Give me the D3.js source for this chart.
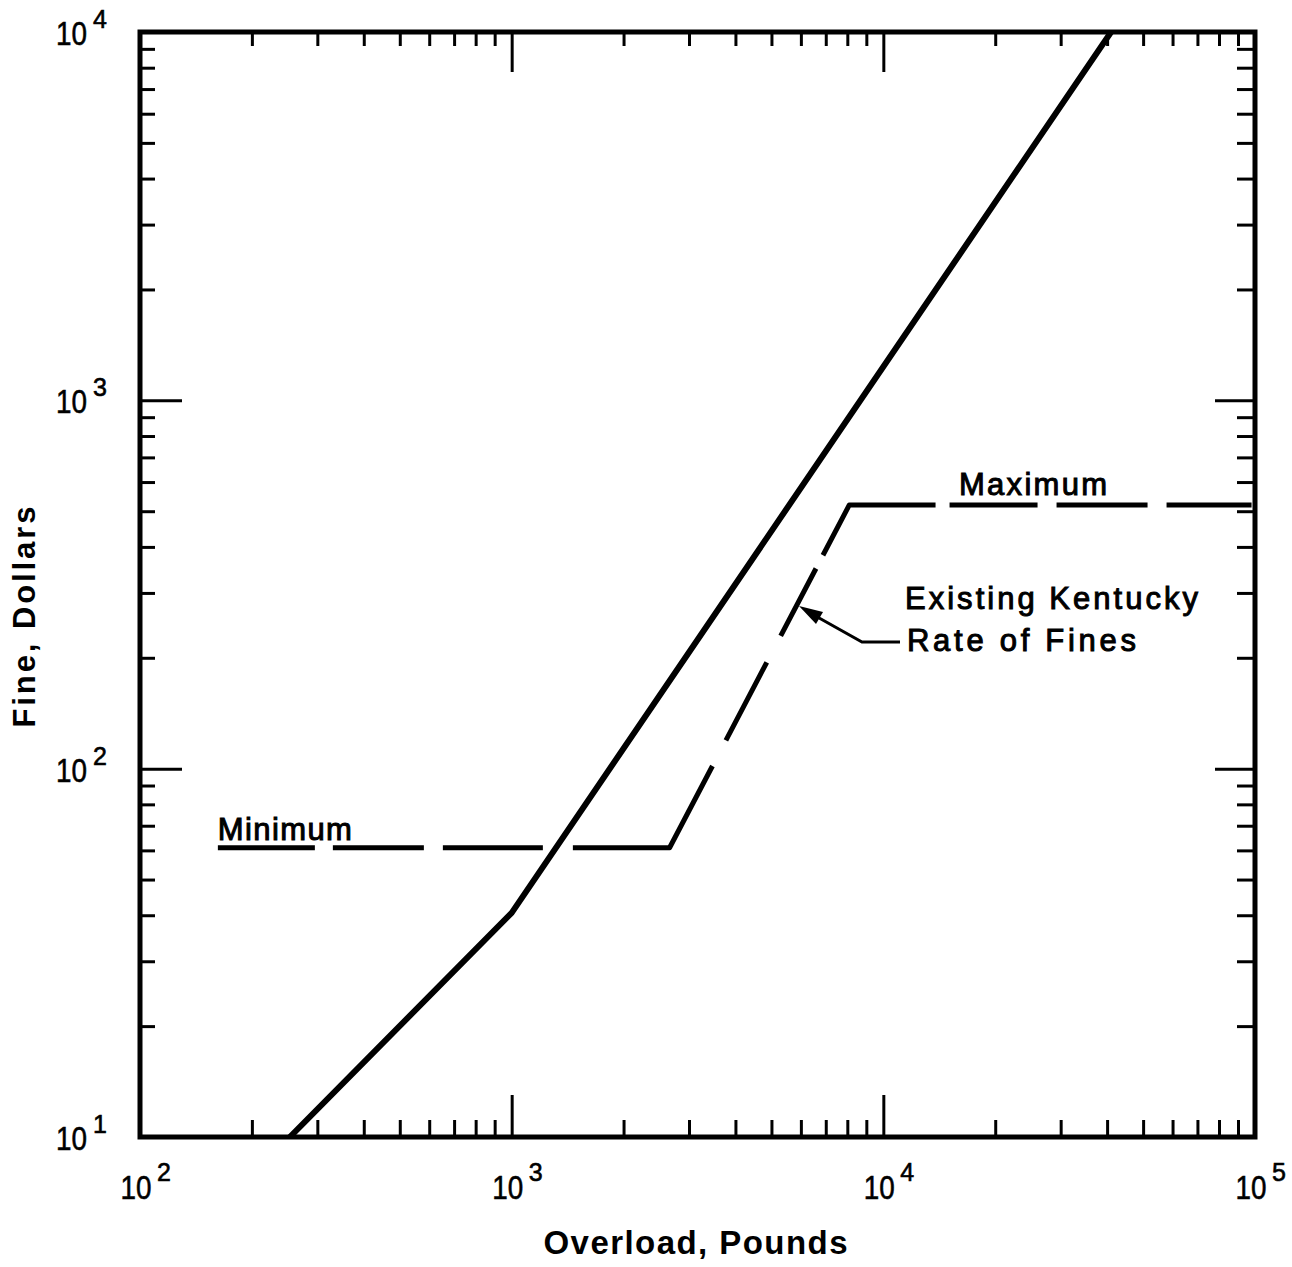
<!DOCTYPE html>
<html>
<head>
<meta charset="utf-8">
<script src="https://cdn.jsdelivr.net/npm/d3@7"></script>
<style>
body{margin:0;background:#fff;}
text{font-family:"Liberation Sans",Arial,sans-serif;fill:#000;}
</style>
</head>
<body>
<div id="chart"></div>
<script>
//values
var overloadSolid = [253, 1000, 41000];
var fineSolid = [10, 40.6, 10000];
var overloadKy = [162, 2660, 8100, 100000];
var fineKy = [61, 61, 520, 520];
var xDecades = [100, 1000, 10000, 100000];
var yDecades = [10, 100, 1000, 10000];
var xExp = ['2', '3', '4', '5'];
var yExp = ['1', '2', '3', '4'];

//layout
var size = {width:1292, height:1267};
var plot = {left:140, right:1255, top:32, bottom:1137};
var kyDash = [97,18, 91,19, 100,30, 189,29, 88,30, 76,15, 143,14, 88,19, 91,19, 85];

var svg = d3.select('#chart').append('svg')
  .attr('width', size.width)
  .attr('height', size.height);

var x = d3.scaleLog().domain([100, 100000]).range([plot.left, plot.right]);
var y = d3.scaleLog().domain([10, 10000]).range([plot.bottom, plot.top]);

function minorOf(scale){
  return scale.ticks().filter(function(d){
    var l = Math.log10(d);
    return Math.abs(l - Math.round(l)) > 1e-6;
  });
}

function drawAxis(axis, tx, ty){
  var g = svg.append('g')
    .attr('transform', 'translate(' + tx + ',' + ty + ')')
    .call(axis);
  g.select('.domain').remove();
  g.selectAll('line').attr('stroke', '#000').attr('stroke-width', 3);
  return g;
}

// ticks point inward on all four sides
drawAxis(d3.axisBottom(x).tickValues(minorOf(x)).tickSize(-17).tickFormat(''), 0, plot.bottom);
drawAxis(d3.axisBottom(x).tickValues(xDecades).tickSize(-42).tickFormat(''), 0, plot.bottom);
drawAxis(d3.axisTop(x).tickValues(minorOf(x)).tickSize(-14).tickFormat(''), 0, plot.top);
drawAxis(d3.axisTop(x).tickValues(xDecades).tickSize(-40).tickFormat(''), 0, plot.top);
drawAxis(d3.axisLeft(y).tickValues(minorOf(y)).tickSize(-15).tickFormat(''), plot.left, 0);
drawAxis(d3.axisLeft(y).tickValues(yDecades).tickSize(-42).tickFormat(''), plot.left, 0);
drawAxis(d3.axisRight(y).tickValues(minorOf(y)).tickSize(-18).tickFormat(''), plot.right, 0);
drawAxis(d3.axisRight(y).tickValues(yDecades).tickSize(-40).tickFormat(''), plot.right, 0);

// frame
svg.append('rect')
  .attr('x', plot.left).attr('y', plot.top)
  .attr('width', plot.right - plot.left).attr('height', plot.bottom - plot.top)
  .attr('fill', 'none').attr('stroke', '#000').attr('stroke-width', 5);

// tick labels 10^n
function base(tx, ty, anchor){
  return svg.append('text').attr('x', tx).attr('y', ty)
    .attr('text-anchor', anchor).attr('font-size', 34)
    .attr('stroke', '#000').attr('stroke-width', 0.6)
    .attr('textLength', 31).attr('lengthAdjust', 'spacingAndGlyphs')
    .text('10');
}
function sup(tx, ty, s){
  return svg.append('text').attr('x', tx).attr('y', ty)
    .attr('font-size', 25).attr('stroke', '#000').attr('stroke-width', 0.6)
    .text(s);
}
xDecades.forEach(function(d, i){
  base(x(d) - 4, plot.bottom + 62, 'middle');
  sup(x(d) + 17, plot.bottom + 44, xExp[i]);
});
yDecades.forEach(function(d, i){
  base(87, y(d) + 13, 'end');
  sup(93, y(d) - 4, yExp[i]);
});

var line = d3.line()
  .x(function(d){ return x(d[0]); })
  .y(function(d){ return y(d[1]); });

svg.append('clipPath').attr('id', 'clip').append('rect')
  .attr('x', plot.left).attr('y', plot.top)
  .attr('width', plot.right - plot.left).attr('height', plot.bottom - plot.top);

svg.append('path')
  .datum(d3.zip(overloadSolid, fineSolid))
  .attr('d', line)
  .attr('clip-path', 'url(#clip)')
  .attr('fill', 'none').attr('stroke', '#000').attr('stroke-width', 6)
  .attr('stroke-linejoin', 'round');

svg.append('path')
  .datum(d3.zip(overloadKy, fineKy))
  .attr('d', line)
  .attr('fill', 'none').attr('stroke', '#000').attr('stroke-width', 5)
  .attr('stroke-dasharray', kyDash.join(','))
  .attr('stroke-linejoin', 'round');

// annotations
function label(txt, lx, ly, len){
  svg.append('text').attr('x', lx).attr('y', ly)
    .attr('font-size', 31).attr('stroke', '#000').attr('stroke-width', 1)
    .attr('textLength', len).attr('lengthAdjust', 'spacing')
    .text(txt);
}
label('Minimum', x(overloadKy[0]), y(fineKy[0]) - 8, 134);
label('Maximum', 959, y(fineKy[3]) - 10, 148);
label('Existing Kentucky', 905, 609, 293);
label('Rate of Fines', 907, 651, 229);

svg.append('path')
  .attr('d', 'M900,642 L862,642 L812,614')
  .attr('fill', 'none').attr('stroke', '#000').attr('stroke-width', 3);
svg.append('path')
  .attr('d', 'M799,606 L823,612 L816,624 Z')
  .attr('fill', '#000');

// axis titles
svg.append('text')
  .attr('x', (plot.left + plot.right) / 2 - 2).attr('y', 1254)
  .attr('text-anchor', 'middle').attr('font-size', 33).attr('font-weight', 'bold')
  .attr('textLength', 304).attr('lengthAdjust', 'spacing')
  .text('Overload, Pounds');
svg.append('text')
  .attr('transform', 'translate(35,617) rotate(-90)')
  .attr('text-anchor', 'middle').attr('font-size', 31).attr('font-weight', 'bold')
  .attr('textLength', 221).attr('lengthAdjust', 'spacing')
  .text('Fine, Dollars');
</script>
</body>
</html>
